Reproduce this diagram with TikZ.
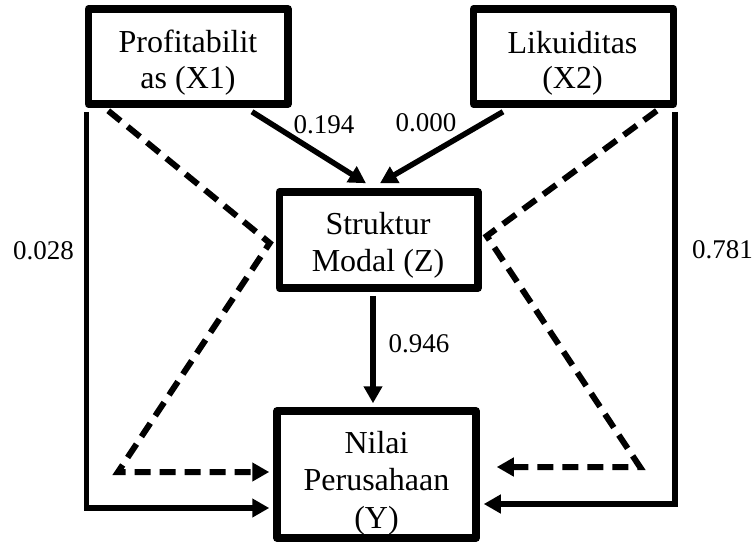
\documentclass[tikz,border=0pt]{standalone}
\usepackage{fontspec}
\setmainfont{Liberation Serif}
\usetikzlibrary{arrows.meta,calc}
\begin{document}
\begin{tikzpicture}[x=1pt,y=-1pt,
  box/.style={draw=black,line width=7.5pt,rectangle,inner sep=0pt,line join=round},
  btxt/.style={anchor=base,inner sep=0pt,font=\fontsize{32}{37}\selectfont},
  lbl/.style={anchor=base,inner sep=0pt,font=\fontsize{27}{31}\selectfont},
  tip/.style={-{Triangle[length=17pt,width=18pt]}},
  arr/.style={line width=5.5pt,tip},
  dsh/.style={line width=6pt,dash pattern=on 16pt off 9pt,tip},
  ln/.style={line width=5.5pt}]
\useasboundingbox (0,0) rectangle (753,544);

% boxes
\node[box,minimum width=199.5pt,minimum height=95pt] (x1) at (188.25,56.5) {};
\node[box,minimum width=200pt,minimum height=95pt] (x2) at (573.5,56.5) {};
\node[box,minimum width=198.5pt,minimum height=96pt] (z) at (378.75,240) {};
\node[box,minimum width=199pt,minimum height=127pt] (y) at (376.5,474.5) {};

% box texts
\node[btxt] (x1a) at (188,52) {Profitabilit};
\node[btxt] (x1b) at (188,88) {as (X1)};
\node[btxt] (x2a) at (572.5,53) {Likuiditas};
\node[btxt] (x2b) at (572.5,88) {(X2)};
\node[btxt] (za) at (378,234.5) {Struktur};
\node[btxt] (zb) at (378,271) {Modal (Z)};
\node[btxt] (ya) at (376.5,453) {Nilai};
\node[btxt] (yb) at (376.5,490.5) {Perusahaan};
\node[btxt] (yc) at (376.5,528) {(Y)};

% solid direct arrows
\draw[arr] ($(x1.south)+(63.75,4)$) -- ($(z.north)+(-12.75,-5)$);
\draw[arr] ($(x2.south)+(-70.5,4)$) -- ($(z.north)+(1.25,-5)$);
\draw[arr] ($(z.south)+(-5.75,4)$) -- ($(y.north)+(-3.5,-4)$);
\draw[arr] ($(x1.south west)+(1.5,4)$) |- ($(y.west)+(-4,33.5)$);
\draw[arr] ($(x2.south east)+(-2.5,4)$) |- ($(y.east)+(4,29.5)$);

% dashed indirect paths
\coordinate (lc) at (118,472);
\coordinate (rc) at (640,467);
\draw[dsh] ($(x1.south west)+(23.5,3)$) -- ($(z.west)+(-6,3)$) -- (lc) -- ($(y.west)+(-4,-2.5)$);
\draw[dsh] ($(x2.south east)+(-20.5,3)$) -- ($(z.east)+(5,-4)$) -- (rc) -- ($(y.east)+(17,-7.5)$);

% labels
\node[lbl] (l194) at (324,133) {0.194};
\node[lbl] (l000) at (426,131) {0.000};
\node[lbl] (l028) at (43.5,259) {0.028};
\node[lbl] (l781) at (722.5,258) {0.781};
\node[lbl] (l946) at (419,352) {0.946};
\end{tikzpicture}
\end{document}
